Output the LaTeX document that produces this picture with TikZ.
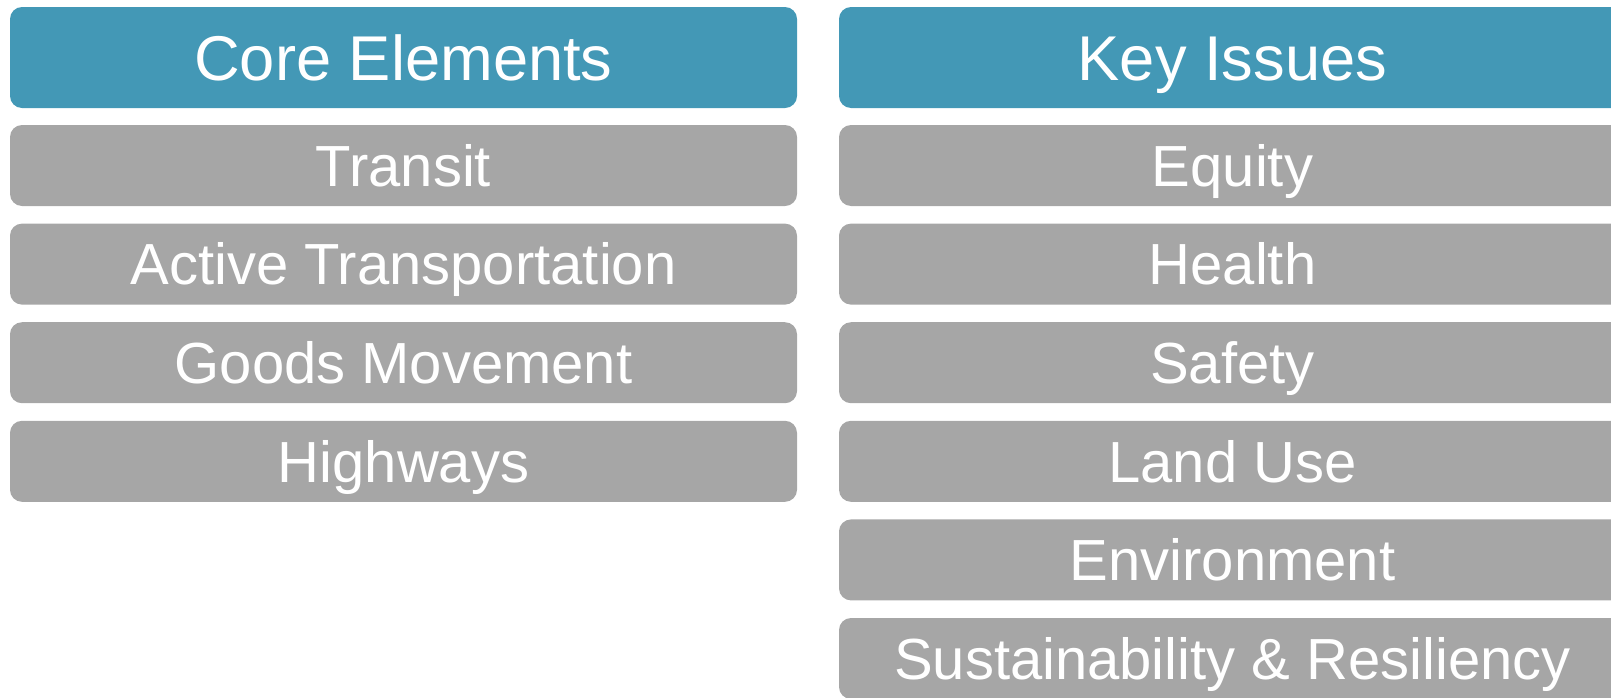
\documentclass[tikz,border=0pt]{standalone}
\usepackage{fontspec}
\setmainfont{Liberation Sans}

\definecolor{headblue}{RGB}{67,152,182}
\definecolor{itemgray}{RGB}{166,166,166}

\tikzset{
  box/.style={rounded corners=0.24cm, minimum width=15.74cm, inner sep=0pt,
    text=white, text depth=0pt},
  header/.style={box, fill=headblue, minimum height=2.02cm, text height=25.8pt,
    font=\fontsize{36}{40}\selectfont},
  item/.style={box, fill=itemgray, minimum height=1.62cm, text height=23.6pt,
    font=\fontsize{33}{37}\selectfont}
}

\begin{document}
\begin{tikzpicture}
    % Page frame, the right column runs off the edge
    \useasboundingbox (0,0) rectangle (32.22,-13.94);
    \clip (0,0) rectangle (32.22,-13.94);

    % Left column
    \node[header] (core) at (8.07,-1.15) {Core Elements};
    \node[item] (transit) at (8.07,-3.31) {Transit};
    \node[item] (active) at (8.07,-5.282) {Active Transportation};
    \node[item] (goods) at (8.07,-7.254) {Goods Movement};
    \node[item] (highways) at (8.07,-9.226) {Highways};

    % Right column
    \node[header] (issues) at (24.65,-1.15) {Key Issues};
    \node[item] (equity) at (24.65,-3.31) {Equity};
    \node[item] (health) at (24.65,-5.282) {Health};
    \node[item] (safety) at (24.65,-7.254) {Safety};
    \node[item] (landuse) at (24.65,-9.226) {Land Use};
    \node[item] (environment) at (24.65,-11.198) {Environment};
    \node[item] (sustain) at (24.65,-13.17) {Sustainability \& Resiliency};
\end{tikzpicture}
\end{document}
